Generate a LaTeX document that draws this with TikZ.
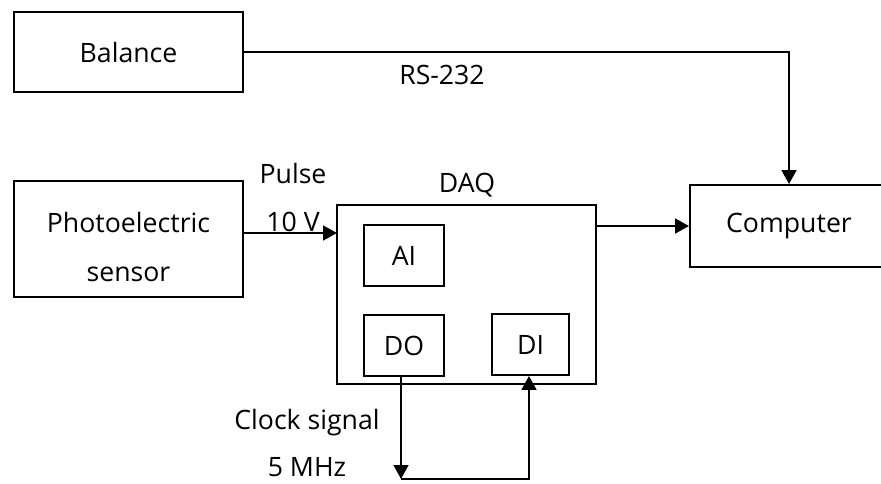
\documentclass[tikz,border=0pt]{standalone}
\usepackage{fontspec}
\setmainfont{Open Sans}
\usetikzlibrary{arrows.meta}
\begin{document}
\begin{tikzpicture}[x=0.75pt,y=-0.75pt,
  box/.style={draw=black,line width=1.4pt,rectangle,inner sep=0pt,font=\fontsize{20}{24}\selectfont},
  lbl/.style={inner sep=0pt,font=\fontsize{20}{24}\selectfont},
  arr/.style={line width=2pt,-{Triangle[length=10.5pt,width=11pt]}},
  conn/.style={line width=2pt}]
\useasboundingbox (0,0) rectangle (881,483);
% boxes
\node[box,minimum width=171.75pt,minimum height=60pt] (bal) at (128.5,52) {Balance};
\node[box,minimum width=171.75pt,minimum height=87pt] (photo) at (128.5,239) {};
\node[lbl,align=center] (photolbl) at (128.5,247) {Photoelectric\\[13pt]sensor};
\node[box,minimum width=194.25pt,minimum height=134.25pt] (daq) at (466.5,294.5) {};
\node[box,minimum width=60pt,minimum height=45.75pt] (ai) at (404,255.5) {AI};
\node[box,minimum width=60pt,minimum height=45.75pt] (do) at (404,345.5) {DO};
\node[box,minimum width=57.75pt,minimum height=45.75pt] (di) at (530.5,344.5) {DI};
\node[box,minimum width=148.5pt,minimum height=61.5pt] (comp) at (789,226) {Computer};
% labels
\node[lbl] (rs) at (442,75) {RS-232};
\node[lbl] (pulse) at (293,173) {Pulse};
\node[lbl] (tenv) at (293,222) {10 V};
\node[lbl] (daqlbl) at (467,185) {DAQ};
\node[lbl] (clk) at (307,423) {Clock signal};
\node[lbl] (mhz) at (307,467) {5 MHz};
% coordinates
\coordinate (pin) at (337,233);
\coordinate (c1) at (401,479);
\coordinate (c2) at (529,479);
% connectors
\draw[arr] (bal.east) -| (comp.north);
\draw[arr] (photo.east |- pin) -- (pin);
\draw[arr] (daq.east |- comp.west) -- (comp.west);
\draw[arr] (do.south -| c1) -- (c1);
\draw[arr] (c1) -- (c2) -- (di.south -| c2);
\end{tikzpicture}
\end{document}
